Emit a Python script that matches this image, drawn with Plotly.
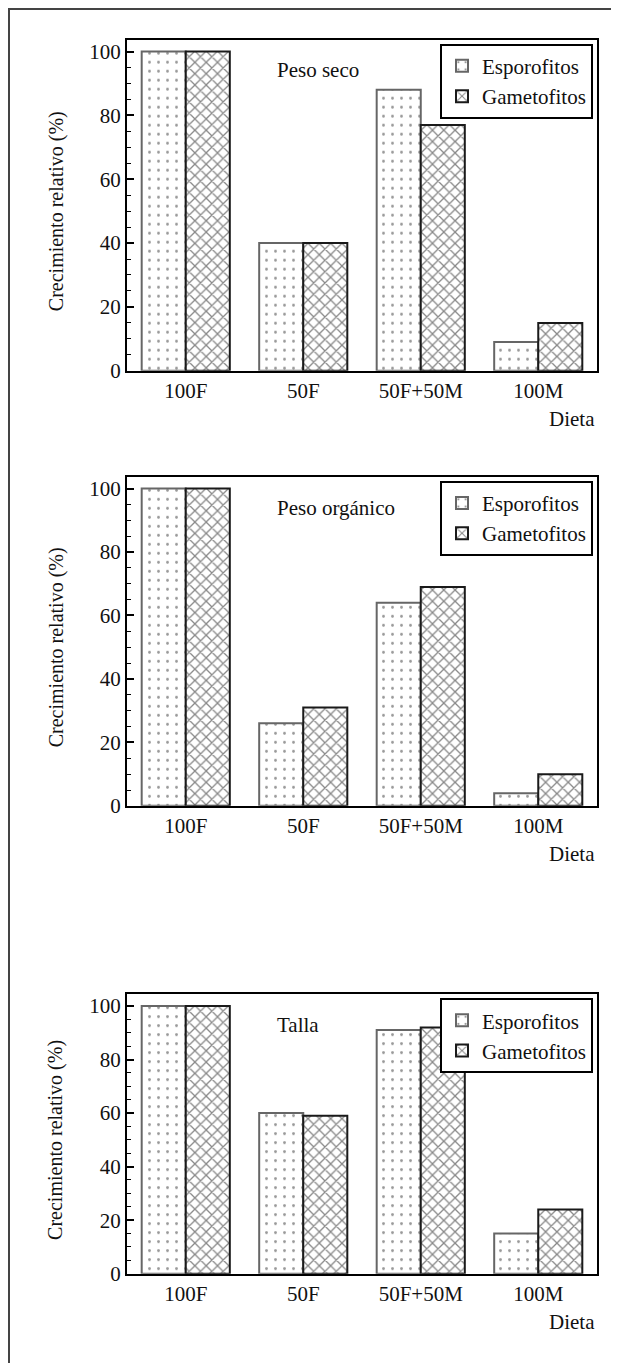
import plotly.graph_objects as go

# page is drawn with an 8px body margin, so the figure is 8px smaller
OFF = 8
W, H = 619 - OFF, 1363 - OFF
FONT = "Liberation Serif"
FS = 21

categories = ["100F", "50F", "50F+50M", "100M"]
panel_titles = ["Peso seco", "Peso orgánico", "Talla"]
esporofitos = [
    [100, 40, 88, 9],
    [100, 26, 64, 4],
    [100, 60, 91, 15],
]
gametofitos = [
    [100, 40, 77, 15],
    [100, 31, 69, 10],
    [100, 59, 92, 24],
]
series_names = ["Esporofitos", "Gametofitos"]
y_ticks = [0, 20, 40, 60, 80, 100]
y_title = "Crecimiento relativo (%)"
x_title = "Dieta"

# page-pixel layout of each panel: (top, bottom(zero line), ymax)
panels_px = [(40, 374, 103.7), (481, 813, 103.7), (1003, 1285, 104.4)]
x_left, x_right = 127, 597


def px_x(p):
    return (p - OFF) / W


def px_y(p):
    return 1 - (p - OFF) / H


fig = go.Figure()
annotations = []
legend_names = ["legend", "legend2", "legend3"]
TXT = "#111111"

for i in range(3):
    top, bot, ymax = panels_px[i]
    xa = "x" if i == 0 else f"x{i+1}"
    ya = "y" if i == 0 else f"y{i+1}"
    leg = legend_names[i]
    fig.add_trace(go.Bar(
        x=categories, y=esporofitos[i], name=series_names[0],
        xaxis=xa, yaxis=ya, legend=leg,
        marker=dict(color="white",
                    line=dict(color="#666666", width=2),
                    pattern=dict(shape=".", fgcolor="#333333", bgcolor="white",
                                 size=9, solidity=0.08)),
    ))
    fig.add_trace(go.Bar(
        x=categories, y=gametofitos[i], name=series_names[1],
        xaxis=xa, yaxis=ya, legend=leg,
        marker=dict(color="white",
                    line=dict(color="#1a1a1a", width=2),
                    pattern=dict(shape="x", fgcolor="#111111", bgcolor="white",
                                 size=8, solidity=0.3)),
    ))
    axis_common = dict(showline=True, linecolor="black", linewidth=2, mirror=True,
                       showgrid=False, zeroline=False,
                       tickfont=dict(family=FONT, size=FS, color=TXT))
    fig.update_layout(**{
        ("xaxis" if i == 0 else f"xaxis{i+1}"): dict(
            axis_common, domain=[px_x(x_left), px_x(x_right)], anchor=ya,
            range=[-0.5, 3.5], ticks="", type="category"),
        ("yaxis" if i == 0 else f"yaxis{i+1}"): dict(
            axis_common, domain=[px_y(bot), px_y(top)], anchor=xa,
            range=[0, ymax], tickvals=y_ticks, ticks="inside", ticklen=7,
            tickwidth=1.5, tickcolor="black",
            minor=dict(dtick=5, ticks="inside", ticklen=4, tickwidth=1, tickcolor="black")),
        leg: dict(x=px_x(x_right - 4), xanchor="right", y=px_y(top + 4), yanchor="top",
                  bgcolor="white", bordercolor="black", borderwidth=2,
                  font=dict(family=FONT, size=FS, color=TXT),
                  itemwidth=30, tracegroupgap=0),
    })
    annotations.append(dict(text=panel_titles[i], xref="paper", yref="paper",
                            x=px_x(275), y=px_y(top + 31), xanchor="left", yanchor="middle",
                            showarrow=False, font=dict(family=FONT, size=FS, color=TXT)))
    annotations.append(dict(text=x_title, xref="paper", yref="paper",
                            x=px_x(x_right), y=px_y(bot + 49), xanchor="right", yanchor="middle",
                            showarrow=False, font=dict(family=FONT, size=FS, color=TXT)))
    annotations.append(dict(text=y_title, xref="paper", yref="paper", textangle=-90,
                            x=px_x(56), y=px_y((top + bot) / 2 + 6), xanchor="center", yanchor="middle",
                            showarrow=False, font=dict(family=FONT, size=FS - 1, color=TXT)))

fig.update_layout(
    width=W, height=H, margin=dict(l=0, r=0, t=0, b=0),
    paper_bgcolor="white", plot_bgcolor="white",
    barmode="group", bargap=0.25, bargroupgap=0,
    annotations=annotations,
    shapes=[dict(type="rect", xref="paper", yref="paper",
                 x0=px_x(9), x1=1.05, y0=-0.05, y1=px_y(9),
                 line=dict(color="#444444", width=2))],
)

fig.write_html("out.html")
